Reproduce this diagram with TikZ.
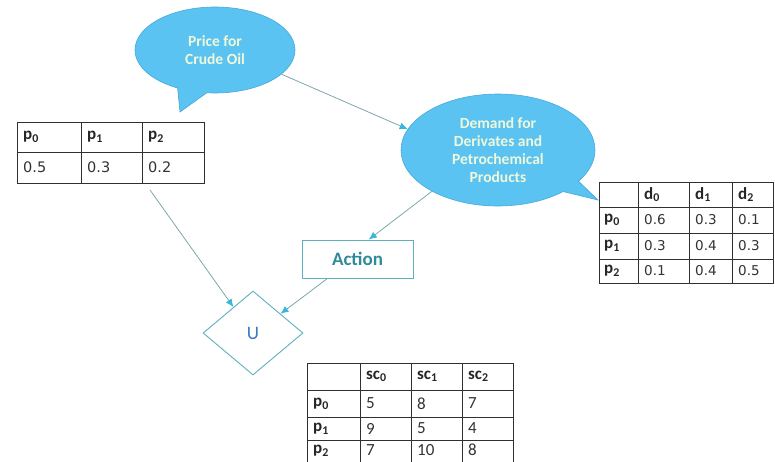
\documentclass[tikz,border=0pt]{standalone}
\usepackage{fontspec}
\setmainfont{Carlito}
\newfontfamily\numfont{DejaVu Sans}
\usetikzlibrary{shapes.callouts,shapes.geometric,arrows.meta}
\definecolor{bubble}{HTML}{5BC3F1}
\definecolor{bubbleedge}{HTML}{45A9DA}
\definecolor{bubbletext}{HTML}{EEF8DC}
\definecolor{linecol}{HTML}{7FA6AC}
\definecolor{tipcol}{HTML}{38B6DC}
\definecolor{tealedge}{HTML}{5DB0BC}
\definecolor{tealtext}{HTML}{2F8A9C}
\definecolor{utext}{HTML}{3A78C0}
\definecolor{gridcol}{HTML}{303030}
\begin{document}
\begin{tikzpicture}[x=1pt,y=-1pt,
  bubblenode/.style={ellipse callout, fill=bubble, draw=bubbleedge, line width=0.6pt,
     inner sep=0pt, text=bubbletext, align=center, font=\bfseries\fontsize{15.5}{18}\selectfont},
  conn/.style={draw=linecol, line width=0.8pt, -{Latex[length=8pt,width=7pt,color=tipcol]}},
  gridline/.style={draw=gridcol, line width=0.9pt},
  hdr/.style={anchor=west, inner sep=0pt, font=\bfseries\fontsize{17}{17}\selectfont, text=black!85},
  numA/.style={anchor=west, inner sep=0pt, font=\numfont\fontsize{14.5}{14.5}\selectfont, text=black!80},
  numB/.style={anchor=west, inner sep=0pt, font=\numfont\fontsize{13.5}{13.5}\selectfont, text=black!80},
  numC/.style={anchor=west, inner sep=0pt, font=\fontsize{17}{17}\selectfont, text=black!80},
  tblbox/.style={draw=gridcol, line width=0.9pt, inner sep=0pt, fill=white}
]
\useasboundingbox (0,0) rectangle (775,461);
\clip (0,0) rectangle (775,461);

% callouts
\node[bubblenode, minimum width=160pt, minimum height=86pt,
      callout absolute pointer={(180,112)}, callout pointer arc=22] (c1) at (215,50)
      {Price for\\Crude Oil};
\node[bubblenode, minimum width=194pt, minimum height=112pt,
      callout absolute pointer={(598,200)}, callout pointer arc=14] (c2) at (498,150)
      {Demand for\\Derivates and\\Petrochemical\\Products};

% action and utility
\node[draw=tealedge, line width=0.9pt, minimum width=111pt, minimum height=38pt, inner sep=0pt,
      text=tealtext, font=\bfseries\fontsize{19}{19}\selectfont] (act) at (357.5,259) {Action};
\node[diamond, draw=tealedge, line width=0.9pt, minimum width=100pt, minimum height=84pt, inner sep=0pt,
      text=utext, font=\fontsize{19}{19}\selectfont] (U) at (253,333) {U};

% table 1
\node[tblbox, minimum width=187pt, minimum height=61pt] (T1) at (110.5,152.5) {};
\draw[gridline] (17,152) -- (204,152) (81,122) -- (81,183) (142,122) -- (142,183);
\node[hdr] (t1h0) at (23,137) {p\textsubscript{0}};
\node[hdr] (t1h1) at (87,137) {p\textsubscript{1}};
\node[hdr] (t1h2) at (148,137) {p\textsubscript{2}};
\node[numA] (t1v0) at (23,167.5) {0.5};
\node[numA] (t1v1) at (87,167.5) {0.3};
\node[numA] (t1v2) at (148,167.5) {0.2};
\coordinate (t1out) at (150,190);

% table 2
\node[tblbox, minimum width=174pt, minimum height=101pt] (T2) at (686,232.5) {};
\draw[gridline] (599,207) -- (773,207) (599,233) -- (773,233) (599,259) -- (773,259)
  (638,182) -- (638,283) (689,182) -- (689,283) (732,182) -- (732,283);
\node[hdr] (t2h0) at (644,194.5) {d\textsubscript{0}};
\node[hdr] (t2h1) at (695,194.5) {d\textsubscript{1}};
\node[hdr] (t2h2) at (738,194.5) {d\textsubscript{2}};
\node[hdr] (t2r0) at (604,220) {p\textsubscript{0}};
\node[hdr] (t2r1) at (604,246) {p\textsubscript{1}};
\node[hdr] (t2r2) at (604,271) {p\textsubscript{2}};
\node[numB] (t2a0) at (644,220) {0.6};
\node[numB] (t2a1) at (695,220) {0.3};
\node[numB] (t2a2) at (738,220) {0.1};
\node[numB] (t2b0) at (644,246) {0.3};
\node[numB] (t2b1) at (695,246) {0.4};
\node[numB] (t2b2) at (738,246) {0.3};
\node[numB] (t2c0) at (644,271) {0.1};
\node[numB] (t2c1) at (695,271) {0.4};
\node[numB] (t2c2) at (738,271) {0.5};

% table 3
\node[tblbox, minimum width=206pt, minimum height=102pt] (T3) at (410,414) {};
\draw[gridline] (307,390) -- (513,390) (307,417) -- (513,417) (307,440) -- (513,440)
  (360,363) -- (360,465) (411,363) -- (411,465) (462,363) -- (462,465);
\node[hdr] (t3h0) at (366,376.5) {sc\textsubscript{0}};
\node[hdr] (t3h1) at (417,376.5) {sc\textsubscript{1}};
\node[hdr] (t3h2) at (468,376.5) {sc\textsubscript{2}};
\node[hdr] (t3r0) at (313,404) {p\textsubscript{0}};
\node[hdr] (t3r1) at (313,429) {p\textsubscript{1}};
\node[hdr] (t3r2) at (313,451) {p\textsubscript{2}};
\node[numC] (t3a0) at (366,403.5) {5};
\node[numC] (t3a1) at (417,403.5) {8};
\node[numC] (t3a2) at (468,403.5) {7};
\node[numC] (t3b0) at (366,428.5) {9};
\node[numC] (t3b1) at (417,428.5) {5};
\node[numC] (t3b2) at (468,428.5) {4};
\node[numC] (t3c0) at (366,450) {7};
\node[numC] (t3c1) at (417,450) {10};
\node[numC] (t3c2) at (468,450) {8};

% connectors
\draw[conn] (c1.-20) -- (c2.167);
\draw[conn] (c2.212) -- (act.60);
\draw[conn] (t1out) -- (U.127);
\draw[conn] (act.213) -- (U.35);
\end{tikzpicture}
\end{document}
